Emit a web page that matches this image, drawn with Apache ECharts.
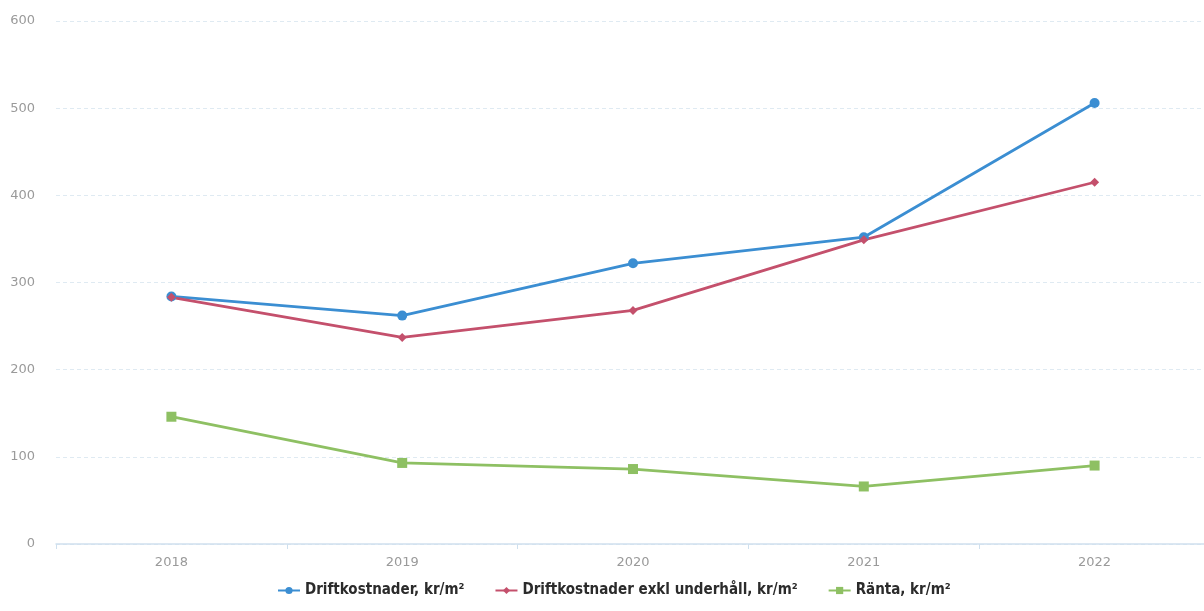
<!DOCTYPE html>
<html>
<head>
<meta charset="utf-8">
<script src="https://cdn.jsdelivr.net/npm/echarts@6/dist/echarts.min.js"></script>
<style>
  html, body { margin: 0; padding: 0; background: #ffffff; overflow: hidden; }
  #chart { width: 1212px; height: 611px; }
</style>
</head>
<body>
<div id="chart"></div>
<script>
// Years on the category axis
const years = ['2018', '2019', '2020', '2021', '2022'];

// Operating costs, SEK per square metre
const driftkostnader = [284, 262, 322, 352, 506];
// Operating costs excluding maintenance
const driftkostnaderExklUnderhall = [283, 237, 268, 349, 415];
// Interest, SEK per square metre
const ranta = [146, 93, 86, 66, 90];

const yTicks = { min: 0, max: 600, interval: 100 };

const chart = echarts.init(document.getElementById('chart'), null, { renderer: 'canvas' });

function lineSeries(name, data, color, symbol, size) {
  return {
    name: name,
    type: 'line',
    data: data,
    symbol: symbol,
    symbolSize: size,
    showAllSymbol: true,
    lineStyle: { color: color, width: 2.8 },
    itemStyle: { color: color },
    emphasis: { disabled: true }
  };
}

chart.setOption({
  animation: false,
  backgroundColor: '#ffffff',
  grid: { left: 56, top: 21, width: 1154, height: 523 },
  legend: {
    bottom: 8,
    left: 272,
    itemGap: 30,
    itemWidth: 22,
    itemHeight: 9,
    textStyle: { color: '#2b2b2b', fontSize: 15, fontFamily: 'DejaVu Sans Condensed', fontWeight: 'bold' },
    data: ['Driftkostnader, kr/m²', 'Driftkostnader exkl underhåll, kr/m²', 'Ränta, kr/m²']
  },
  xAxis: {
    type: 'category',
    data: years,
    boundaryGap: true,
    axisLine: { lineStyle: { color: '#cfe0ee', width: 1.5 } },
    axisTick: { show: true, lineStyle: { color: '#cfe0ee' }, length: 5 },
    axisLabel: { color: '#9a9a9a', fontSize: 13, margin: 12, fontFamily: 'DejaVu Sans' },
    splitLine: { show: false }
  },
  yAxis: {
    type: 'value',
    min: yTicks.min,
    max: yTicks.max,
    interval: yTicks.interval,
    axisLine: { show: false },
    axisTick: { show: false },
    axisLabel: { color: '#9a9a9a', fontSize: 13, margin: 21, fontFamily: 'DejaVu Sans' },
    splitLine: { lineStyle: { color: '#dfeaf2', type: [4, 3], width: 1 } }
  },
  series: [
    lineSeries('Driftkostnader, kr/m²', driftkostnader, '#3b8ed2', 'circle', 10),
    lineSeries('Driftkostnader exkl underhåll, kr/m²', driftkostnaderExklUnderhall, '#c4506c', 'diamond', 9),
    lineSeries('Ränta, kr/m²', ranta, '#8ec063', 'rect', 10)
  ]
});
</script>
</body>
</html>
